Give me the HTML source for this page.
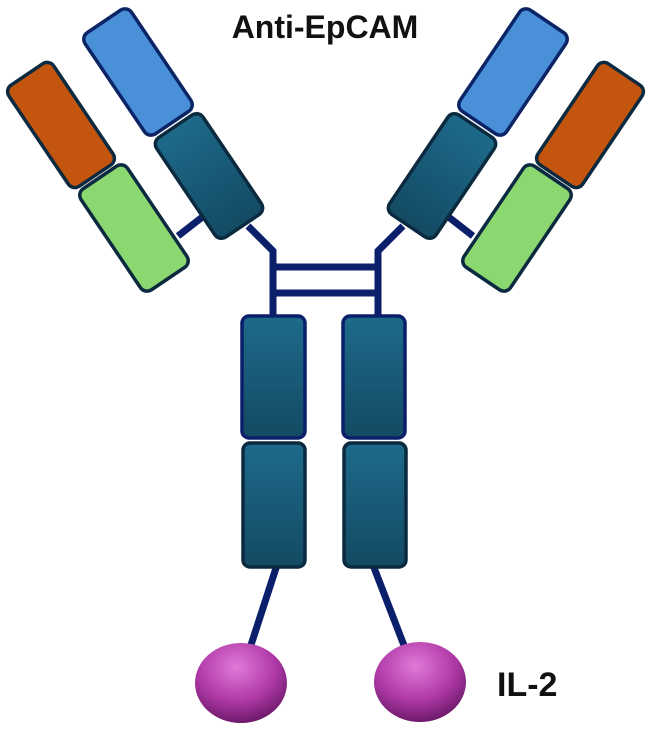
<!DOCTYPE html>
<html><head><meta charset="utf-8"><style>
html,body{margin:0;padding:0;background:#fff;}
svg{display:block;}
</style></head><body>
<svg width="651" height="729" viewBox="0 0 651 729" xmlns="http://www.w3.org/2000/svg">
<defs>
<linearGradient id="teal" x1="0" y1="0" x2="0" y2="1">
<stop offset="0" stop-color="#1d6a8a"/><stop offset="1" stop-color="#134a63"/></linearGradient>
<radialGradient id="ball" cx="0.45" cy="0.3" r="0.7">
<stop offset="0" stop-color="#e07ad8"/><stop offset="0.6" stop-color="#b03aa8"/><stop offset="1" stop-color="#6e1a6a"/></radialGradient>
<g id="arm">
<line x1="178" y1="236" x2="205" y2="215" stroke="#0b1f6b" stroke-width="7"/>
<polyline points="248,226 273,251 273,320" fill="none" stroke="#0b1f6b" stroke-width="7"/>
<g transform="translate(138,72) rotate(-34)"><rect x="-28" y="-61" width="56" height="122" rx="8" fill="#4a90d9" stroke="#0b2466" stroke-width="3.5"/></g>
<g transform="translate(209,176) rotate(-34)"><rect x="-28" y="-60" width="56" height="120" rx="8" fill="url(#teal)" stroke="#0b2a40" stroke-width="3.5"/></g>
<g transform="translate(61,125) rotate(-34)"><rect x="-27" y="-61" width="54" height="122" rx="8" fill="#c4550f" stroke="#0b2a40" stroke-width="3.5"/></g>
<g transform="translate(134,228) rotate(-34)"><rect x="-28" y="-61" width="56" height="122" rx="8" fill="#8cd870" stroke="#0b2a40" stroke-width="3.5"/></g>
</g>
</defs>
<use href="#arm"/>
<use href="#arm" transform="translate(651,0) scale(-1,1)"/>
<line x1="273" y1="267" x2="378" y2="267" stroke="#0b1f6b" stroke-width="7"/>
<line x1="273" y1="293" x2="378" y2="293" stroke="#0b1f6b" stroke-width="7"/>
<line x1="277" y1="565" x2="250" y2="648" stroke="#0b1f6b" stroke-width="7"/>
<line x1="373" y1="565" x2="405" y2="648" stroke="#0b1f6b" stroke-width="7"/>
<rect x="242" y="316" width="63" height="122" rx="7" fill="url(#teal)" stroke="#0b1f6b" stroke-width="3.5"/>
<rect x="243" y="443" width="62" height="124" rx="7" fill="url(#teal)" stroke="#0b2a40" stroke-width="3.5"/>
<rect x="343" y="316" width="62" height="122" rx="7" fill="url(#teal)" stroke="#0b1f6b" stroke-width="3.5"/>
<rect x="344" y="443" width="62" height="124" rx="7" fill="url(#teal)" stroke="#0b2a40" stroke-width="3.5"/>
<ellipse cx="241" cy="683" rx="46" ry="40" fill="url(#ball)"/>
<ellipse cx="420" cy="682" rx="46" ry="40" fill="url(#ball)"/>
<text x="325" y="38" text-anchor="middle" font-family="Liberation Sans, sans-serif" font-weight="bold" font-size="32" fill="#111">Anti-EpCAM</text>
<text x="497" y="696" font-family="Liberation Sans, sans-serif" font-weight="bold" font-size="34" fill="#111">IL-2</text>
</svg>
</body></html>
